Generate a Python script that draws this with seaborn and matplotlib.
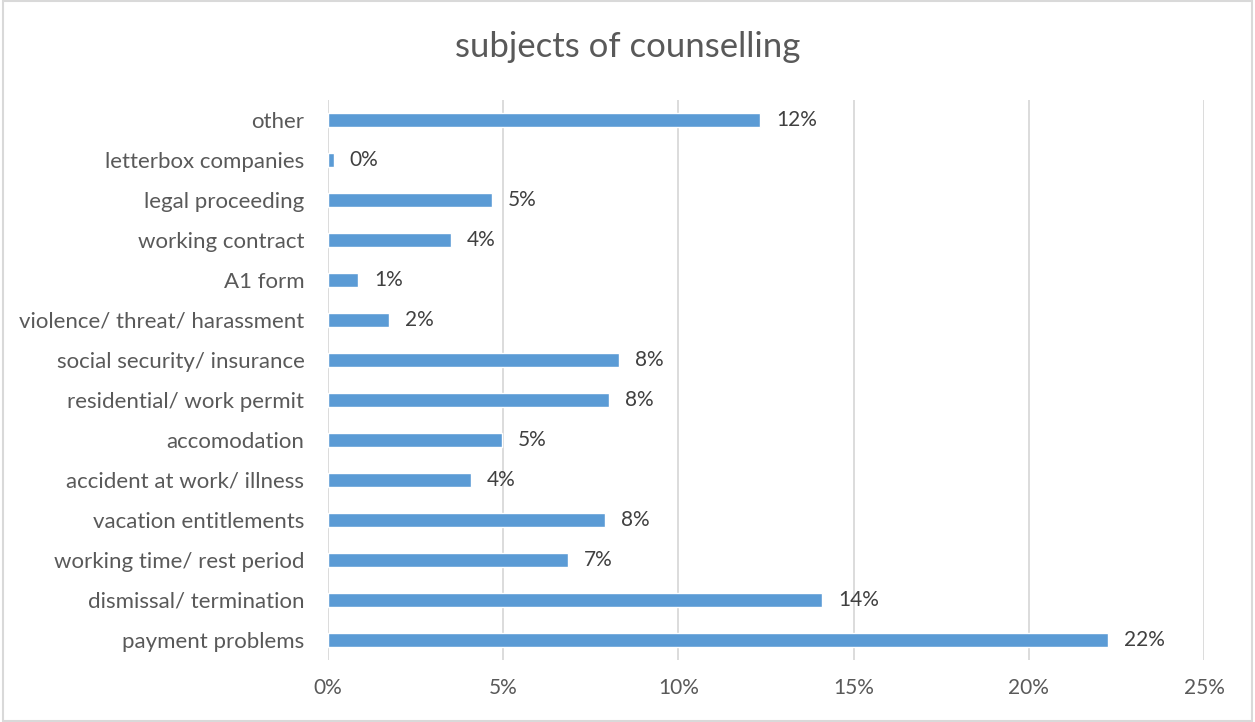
import matplotlib
matplotlib.use("Agg")
import matplotlib.pyplot as plt
import seaborn as sns
import pandas as pd

categories = [
    "other",
    "letterbox companies",
    "legal proceeding",
    "working contract",
    "A1 form",
    "violence/ threat/ harassment",
    "social security/ insurance",
    "residential/ work permit",
    "accomodation",
    "accident at work/ illness",
    "vacation entitlements",
    "working time/ rest period",
    "dismissal/ termination",
    "payment problems",
]
shares = [12.34, 0.17, 4.69, 3.51, 0.86, 1.74, 8.31, 8.03, 4.97, 4.09, 7.91, 6.86, 14.11, 22.26]
x_ticks = [0, 5, 10, 15, 20, 25]

sns.set_theme(style="white")
plt.rcParams["font.family"] = ["Lato", "DejaVu Sans"]

text_color = "#595959"
bar_color = "#5b9bd5"
grid_color = "#d9d9d9"

df = pd.DataFrame({"subject": categories, "share": shares})

fig = plt.figure(figsize=(12.55, 7.22), dpi=100)
ax = fig.add_axes([328 / 1255, 1 - 660 / 722, (1204 - 328) / 1255, 560 / 722])

sns.barplot(data=df, x="share", y="subject", orient="h", color=bar_color,
            width=0.35, saturation=1, ax=ax, zorder=3)

ax.set_xlim(0, 25)
ax.set_ylim(13.5, -0.5)
ax.set_xticks(x_ticks)
ax.set_xticklabels([f"{t}%" for t in x_ticks], fontsize=15, color=text_color)
ax.tick_params(axis="x", length=0, pad=13)
ax.tick_params(axis="y", length=0, pad=17, labelsize=16, labelcolor=text_color)
ax.set_xlabel("")
ax.set_ylabel("")
ax.grid(axis="x", color=grid_color, linewidth=1.3, zorder=0)
ax.grid(axis="y", visible=False)
for s in ax.spines.values():
    s.set_visible(False)

for i, v in enumerate(shares):
    ax.text(v + 0.45, i, f"{round(v):d}%", va="center", ha="left",
            fontsize=15, color="#404040")

fig.text(0.5, 1 - 47 / 722, "subjects of counselling", ha="center", va="center",
         fontsize=25, color=text_color)

# outer frame of the chart area
fig.patches.append(plt.Rectangle((0.002, 0.002), 0.996, 0.996, transform=fig.transFigure,
                                 fill=False, edgecolor="#d9d9d9", linewidth=1.5))

fig.savefig("out.png", dpi=100, facecolor="white")
